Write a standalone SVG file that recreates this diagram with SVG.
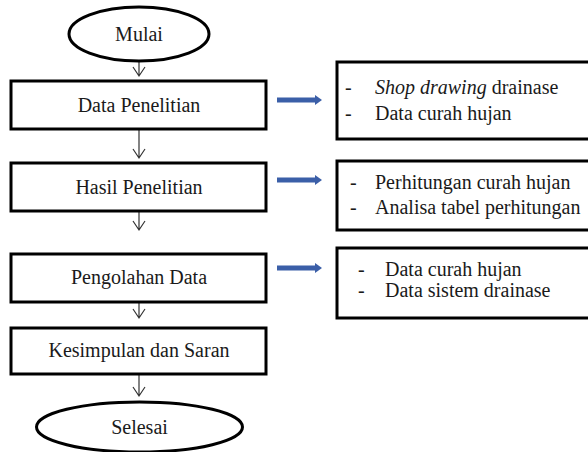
<svg xmlns="http://www.w3.org/2000/svg" width="588" height="452" viewBox="0 0 588 452" font-family="Liberation Serif, Times New Roman, serif">
<defs>
<style>
text{font-family:'Liberation Serif','Times New Roman',serif;font-size:20px;fill:#1a1a1a}
.c{text-anchor:middle}
.box{fill:#fff;stroke:#000;stroke-width:3}
.down{stroke:#333;stroke-width:1.2;fill:none}
.blue{stroke:#3B5FA8;stroke-width:5;fill:none}
.bh{fill:#3B5FA8}
</style>
</defs>
<rect width="588" height="452" fill="#fff"/>
<g id="connectors">
<path class="down" d="M139 62V76M133 67L139 76L145 67"/>
<path class="down" d="M139 129V158M133 149L139 158L145 149"/>
<path class="down" d="M139 211V230M133 221L139 230L145 221"/>
<path class="down" d="M139 302V318M133 309L139 318L145 309"/>
<path class="down" d="M139 374V396M133 387L139 396L145 387"/>
<path class="blue" d="M277 100H316"/><path class="bh" d="M315 95L322 100L315 105Z"/>
<path class="blue" d="M277 180H316"/><path class="bh" d="M315 175L322 180L315 185Z"/>
<path class="blue" d="M277 268H316"/><path class="bh" d="M315 263L322 268L315 273Z"/>
</g>
<g id="mulai">
<ellipse class="box" cx="139" cy="34" rx="70" ry="27"/>
<text class="c" x="139" y="41">Mulai</text>
</g>
<g id="data-penelitian">
<rect class="box" x="11" y="81" width="255" height="48"/>
<text class="c" x="139" y="112">Data Penelitian</text>
</g>
<g id="hasil-penelitian">
<rect class="box" x="11" y="163" width="255" height="48"/>
<text class="c" x="139" y="194">Hasil Penelitian</text>
</g>
<g id="pengolahan-data">
<rect class="box" x="11" y="254" width="255" height="48"/>
<text class="c" x="139" y="284">Pengolahan Data</text>
</g>
<g id="kesimpulan">
<rect class="box" x="11" y="328" width="255" height="46"/>
<text class="c" x="139" y="357">Kesimpulan dan Saran</text>
</g>
<g id="selesai">
<ellipse class="box" cx="139.5" cy="427" rx="103" ry="25"/>
<text class="c" x="139.5" y="434">Selesai</text>
</g>
<g id="box1">
<rect class="box" x="337" y="62" width="270" height="77"/>
<text x="345" y="94">-</text>
<text x="375" y="94"><tspan font-style="italic">Shop drawing</tspan> drainase</text>
<text x="345" y="120">-</text>
<text x="375" y="120">Data curah hujan</text>
</g>
<g id="box2">
<rect class="box" x="337" y="161" width="270" height="69"/>
<text x="350" y="189">-</text>
<text x="375" y="189">Perhitungan curah hujan</text>
<text x="350" y="214">-</text>
<text x="375" y="214">Analisa tabel perhitungan</text>
</g>
<g id="box3">
<rect class="box" x="337" y="248" width="270" height="70"/>
<text x="358" y="276">-</text>
<text x="385" y="276">Data curah hujan</text>
<text x="358" y="297">-</text>
<text x="385" y="297">Data sistem drainase</text>
</g>
</svg>
